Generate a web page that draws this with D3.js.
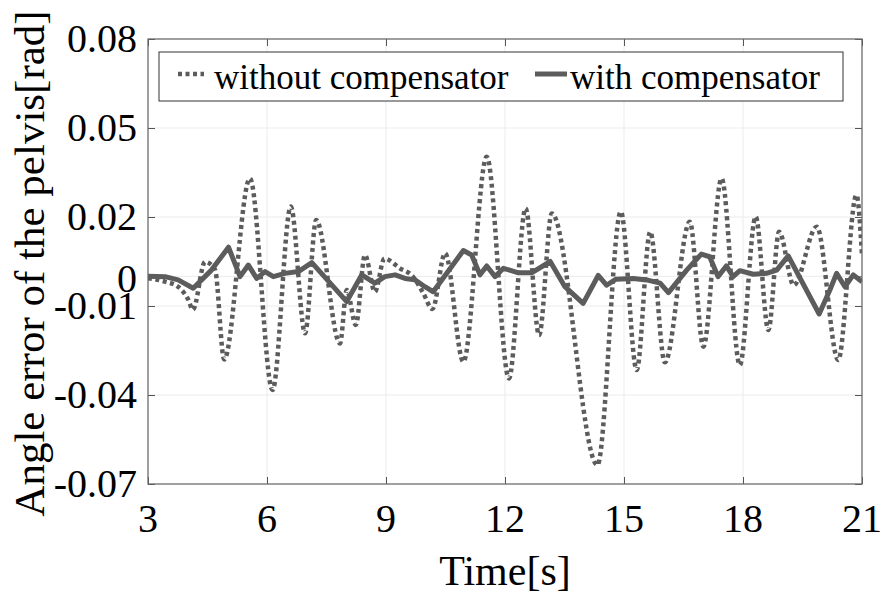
<!DOCTYPE html>
<html>
<head>
<meta charset="utf-8">
<script src="https://cdn.jsdelivr.net/npm/d3@7"></script>
<style>
  html, body { margin: 0; padding: 0; background: #fff; }
  svg { display: block; font-family: "Liberation Serif", "Times New Roman", serif; }
</style>
</head>
<body>
<svg id="chart" width="883" height="593"></svg>
<script>
// ---- data ----
const withoutT = [3.0, 3.43, 3.76, 4.02, 4.13, 4.44, 4.69, 4.92, 5.57, 6.14, 6.60, 6.96, 7.24, 7.84, 8.01, 8.24, 8.47, 8.72, 8.96, 9.35, 9.68, 9.94, 10.17, 10.49, 10.95, 11.54, 12.10, 12.52, 12.86, 13.18, 14.33, 14.92, 15.32, 15.66, 16.03, 16.66, 17.00, 17.46, 17.92, 18.32, 18.64, 18.91, 19.28, 19.86, 20.40, 20.86, 21.0];
const withoutV = [-0.0006, -0.0018, -0.0035, -0.008, -0.0113, 0.0049, 0.0022, -0.028, 0.033, -0.0383, 0.0235, -0.0192, 0.019, -0.0226, -0.0046, -0.0164, 0.0072, -0.0052, 0.006, 0.0027, -0.0001, -0.0057, -0.011, 0.0078, -0.0288, 0.0403, -0.0344, 0.0229, -0.0198, 0.0212, -0.0636, 0.0218, -0.0316, 0.015, -0.029, 0.0184, -0.0237, 0.033, -0.0299, 0.0201, -0.0181, 0.015, -0.003, 0.0167, -0.0282, 0.0274, 0.0072];

const withT = [3.0, 3.43, 3.76, 4.14, 4.60, 5.03, 5.32, 5.53, 5.74, 5.95, 6.16, 6.45, 6.79, 7.13, 8.01, 8.39, 8.72, 8.97, 9.23, 9.48, 9.73, 9.98, 10.19, 10.95, 11.16, 11.37, 11.54, 11.75, 11.96, 12.34, 12.67, 13.14, 13.51, 13.97, 14.35, 14.56, 14.79, 15.23, 15.57, 15.91, 16.12, 16.58, 16.95, 17.16, 17.37, 17.58, 17.75, 17.92, 18.26, 18.59, 18.85, 19.14, 19.92, 20.19, 20.36, 20.57, 20.78, 21.0];
const withV = [0.0, -0.0001, -0.0012, -0.004, 0.0021, 0.0098, -0.0001, 0.0038, -0.0007, 0.0016, -0.0001, 0.001, 0.0016, 0.0046, -0.0085, 0.0005, -0.0023, -0.0001, 0.0005, -0.0007, -0.0012, -0.0035, -0.0052, 0.0087, 0.0072, 0.0005, 0.0035, -0.0001, 0.0027, 0.0012, 0.0012, 0.005, -0.0035, -0.0091, 0.0003, -0.003, -0.001, -0.0007, -0.0012, -0.0023, -0.0055, 0.0021, 0.0075, 0.0066, -0.0001, 0.0035, -0.0001, 0.0019, 0.0007, 0.001, 0.0021, 0.0069, -0.0127, -0.0046, 0.001, -0.0035, 0.0005, -0.0018];

const xTicks = [3, 6, 9, 12, 15, 18, 21];
const yTicks = [0.08, 0.05, 0.02, 0, -0.01, -0.04, -0.07];
const yTickLabels = ["0.08", "0.05", "0.02", "0", "-0.01", "-0.04", "-0.07"];
const seriesNames = ["without compensator", "with compensator"];
const xTitle = "Time[s]";
const yTitle = "Angle error of the pelvis[rad]";

// ---- layout ----
const L = 148, R = 862, T = 39, B = 484;
const lineColor = "#5c5c5c";

const svg = d3.select("#chart");
const x = d3.scaleLinear().domain([3, 21]).range([L, R]);
const y = d3.scaleLinear().domain([-0.07, 0.08]).range([B, T]);

// grid
const grid = svg.append("g");
grid.selectAll("line.gx").data(xTicks).join("line")
  .attr("x1", d => x(d)).attr("x2", d => x(d)).attr("y1", T).attr("y2", B)
  .attr("stroke", "#ebebeb").attr("stroke-width", 1);
grid.selectAll("line.gy").data(yTicks).join("line")
  .attr("y1", d => y(d)).attr("y2", d => y(d)).attr("x1", L).attr("x2", R)
  .attr("stroke", "#ebebeb").attr("stroke-width", 1);

// axes (ticks inward on all four sides)
const tickLen = 7;
const axStyle = g => {
  g.select(".domain").remove();
  g.selectAll(".tick line").attr("stroke", "#555").attr("stroke-width", 1);
};
svg.append("g").attr("transform", `translate(0,${B})`)
  .call(d3.axisBottom(x).tickValues(xTicks).tickSizeInner(-tickLen).tickSizeOuter(0).tickFormat(""))
  .call(axStyle);
svg.append("g").attr("transform", `translate(0,${T})`)
  .call(d3.axisTop(x).tickValues(xTicks).tickSizeInner(-tickLen).tickSizeOuter(0).tickFormat(""))
  .call(axStyle);
svg.append("g").attr("transform", `translate(${L},0)`)
  .call(d3.axisLeft(y).tickValues(yTicks).tickSizeInner(-tickLen).tickSizeOuter(0).tickFormat(""))
  .call(axStyle);
svg.append("g").attr("transform", `translate(${R},0)`)
  .call(d3.axisRight(y).tickValues(yTicks).tickSizeInner(-tickLen).tickSizeOuter(0).tickFormat(""))
  .call(axStyle);

// tick labels
svg.append("g").selectAll("text").data(xTicks).join("text")
  .attr("x", d => x(d)).attr("y", 532)
  .attr("text-anchor", "middle").attr("font-size", 40)
  .text(d => d);
svg.append("g").selectAll("text").data(yTicks).join("text")
  .attr("x", 137).attr("y", d => y(d) + (d === 0 ? 2 : 0)).attr("dy", "0.33em")
  .attr("text-anchor", "end").attr("font-size", 40)
  .text((d, i) => yTickLabels[i]);

// clip
svg.append("clipPath").attr("id", "clip").append("rect")
  .attr("x", L).attr("y", T).attr("width", R - L).attr("height", B - T);

const dataWithout = withoutT.map((t, i) => [t, withoutV[i]]);
const dataWith = withT.map((t, i) => [t, withV[i]]);

const lineSmooth = d3.line().x(d => x(d[0])).y(d => y(d[1])).curve(d3.curveMonotoneX);
const lineLin = d3.line().x(d => x(d[0])).y(d => y(d[1])).curve(d3.curveLinear);

const plot = svg.append("g").attr("clip-path", "url(#clip)");
plot.append("path").datum(dataWithout)
  .attr("d", lineSmooth).attr("fill", "none")
  .attr("stroke", lineColor).attr("stroke-width", 4.5)
  .attr("stroke-dasharray", "4,3.5");
plot.append("path").datum(dataWith)
  .attr("d", lineLin).attr("fill", "none")
  .attr("stroke", lineColor).attr("stroke-width", 5)
  .attr("stroke-linejoin", "round");

// box
svg.append("rect").attr("x", L).attr("y", T).attr("width", R - L).attr("height", B - T)
  .attr("fill", "none").attr("stroke", "#666").attr("stroke-width", 1.2);

// legend
const lg = svg.append("g");
lg.append("rect").attr("x", 159).attr("y", 52).attr("width", 684).attr("height", 49)
  .attr("fill", "#fff").attr("stroke", "#333").attr("stroke-width", 1);
lg.append("line").attr("x1", 178).attr("x2", 204).attr("y1", 74).attr("y2", 74)
  .attr("stroke", lineColor).attr("stroke-width", 4.5).attr("stroke-dasharray", "4,3.5");
lg.append("text").attr("x", 214).attr("y", 89).attr("font-size", 35).text(seriesNames[0]);
lg.append("line").attr("x1", 535).attr("x2", 567).attr("y1", 74).attr("y2", 74)
  .attr("stroke", lineColor).attr("stroke-width", 5);
lg.append("text").attr("x", 570).attr("y", 89).attr("font-size", 35).text(seriesNames[1]);

// titles
svg.append("text").attr("x", 505).attr("y", 585).attr("text-anchor", "middle")
  .attr("font-size", 42).text(xTitle);
svg.append("text").attr("transform", `translate(44,${(T + B) / 2 + 2}) rotate(-90)`)
  .attr("text-anchor", "middle").attr("font-size", 43).text(yTitle);
</script>
</body>
</html>
